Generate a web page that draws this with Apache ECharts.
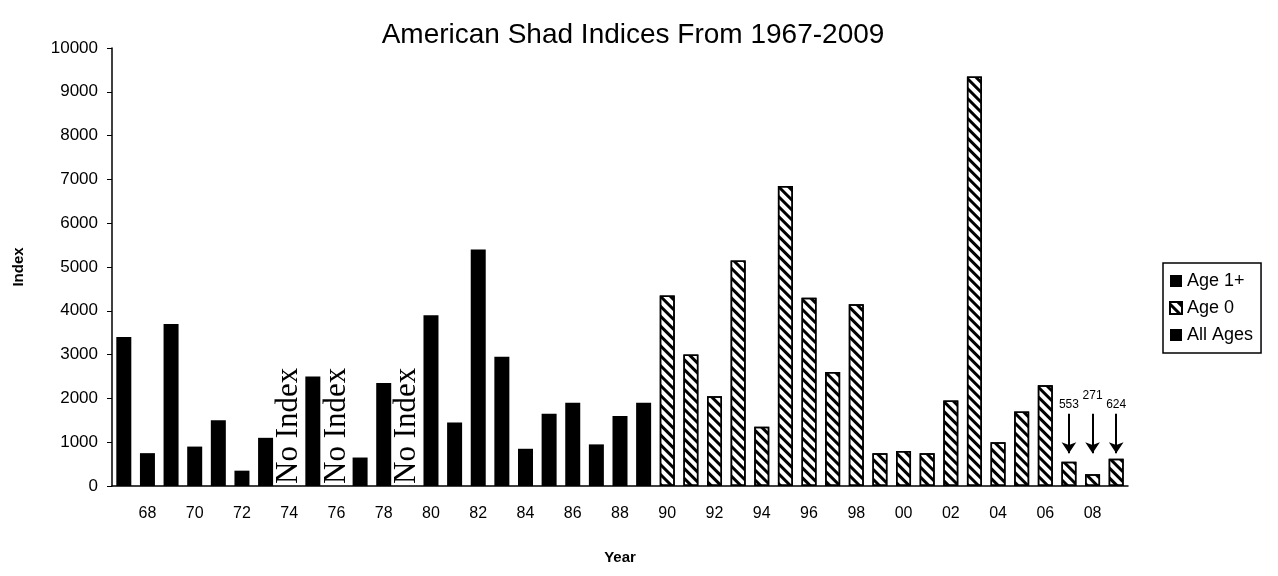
<!DOCTYPE html>
<html>
<head>
<meta charset="utf-8">
<script src="https://cdn.jsdelivr.net/npm/echarts@6/dist/echarts.min.js"></script>
<style>
  html, body { margin: 0; padding: 0; background: #fff; }
  #shadChart { width: 1278px; height: 576px; }
</style>
</head>
<body>
<div id="shadChart"></div>
<script>
// years on the x axis
const years = [
  "1967", "1968", "1969", "1970", "1971", "1972", "1973", "1974", "1975", "1976",
  "1977", "1978", "1979", "1980", "1981", "1982", "1983", "1984", "1985", "1986",
  "1987", "1988", "1989", "1990", "1991", "1992", "1993", "1994", "1995", "1996",
  "1997", "1998", "1999", "2000", "2001", "2002", "2003", "2004", "2005", "2006",
  "2007", "2008", "2009"
];
// Age 1+ index, 1967-1989 (null = no index that year)
const age1Plus = [
  3400, 750, 3700, 900, 1500, 350, 1100, null, 2500, null,
  650, 2350, null, 3900, 1450, 5400, 2950, 850, 1650, 1900,
  950, 1600, 1900
];
// Age 0 index, 1990-2009
const age0 = [
  4350, 3000, 2050, 5150, 1350, 6850, 4300, 2600, 4150, 750,
  800, 750, 1950, 9350, 1000, 1700, 2300, 553, 271, 624
];
const allAges = [];
const noIndexYears = ["1974", "1976", "1979"];
const arrowYears = ["2007", "2008", "2009"];
const yTicks = [0, 10000, 1000]; // min, max, step

const font = "Liberation Sans, Arial, sans-serif";

// pad the series to the full year range
const age1Data = years.map((y, i) => (i < age1Plus.length && age1Plus[i] != null ? age1Plus[i] : "-"));
const age0Data = years.map((y, i) => {
  let j = i - age1Plus.length;
  return j >= 0 ? age0[j] : "-";
});
const noIndexData = years.map(y => (noIndexYears.includes(y) ? 0 : "-"));

const arrowLines = arrowYears.map((y, k) => {
  let v = age0[years.indexOf(y) - age1Plus.length];
  return [
    {
      coord: [y, 1650],
      label: {
        show: true,
        position: "start",
        formatter: String(v),
        distance: k === 1 ? 12 : 3,
        fontSize: 12,
        color: "#000",
        fontFamily: font
      }
    },
    { coord: [y, 750] }
  ];
});

let chart = echarts.init(document.getElementById("shadChart"));
chart.setOption({
  backgroundColor: "#fff",
  animation: false,
  title: {
    text: "American Shad Indices From 1967-2009",
    left: 628,
    textAlign: "center",
    top: 16,
    textStyle: { fontSize: 28, fontWeight: "normal", color: "#000", fontFamily: font }
  },
  legend: {
    data: ["Age 1+", "Age 0", "All Ages"],
    orient: "vertical",
    left: 1163,
    top: 263,
    padding: [9, 8, 9, 6],
    itemGap: 9,
    itemWidth: 12,
    itemHeight: 12,
    icon: "rect",
    borderColor: "#000",
    borderWidth: 1.5,
    textStyle: { fontSize: 18, color: "#000", fontFamily: font }
  },
  grid: { left: 112, right: 150, top: 48, bottom: 90 },
  xAxis: {
    type: "category",
    data: years,
    name: "Year",
    nameLocation: "middle",
    nameGap: 64,
    nameTextStyle: { fontSize: 15, fontWeight: "bold", color: "#000", fontFamily: font },
    boundaryGap: true,
    axisLine: { lineStyle: { color: "#000", width: 1.5 } },
    axisTick: { interval: 0, length: 5, lineStyle: { color: "#000" } },
    axisLabel: {
      interval: (i) => i % 2 === 1,
      formatter: (v) => v.slice(2),
      fontSize: 16,
      margin: 20,
      color: "#000",
      fontFamily: font
    }
  },
  yAxis: {
    type: "value",
    min: yTicks[0],
    max: yTicks[1],
    interval: yTicks[2],
    name: "Index",
    nameLocation: "middle",
    nameGap: 86,
    nameTextStyle: { fontSize: 15, fontWeight: "bold", color: "#000", fontFamily: font },
    axisLine: { show: true, lineStyle: { color: "#000", width: 1.5 } },
    axisTick: { show: true, length: 5, lineStyle: { color: "#000" } },
    splitLine: { show: false },
    axisLabel: {
      formatter: (v) => String(v),
      fontSize: 17,
      margin: 14,
      color: "#000",
      fontFamily: font
    }
  },
  series: [
    {
      name: "Age 1+",
      type: "bar",
      stack: "idx",
      barWidth: 15,
      data: age1Data,
      itemStyle: { color: "#000" }
    },
    {
      name: "Age 0",
      type: "bar",
      stack: "idx",
      barWidth: 15,
      data: age0Data,
      itemStyle: {
        color: "#fff",
        borderColor: "#000",
        borderWidth: 1.5,
        decal: {
          symbol: "rect",
          color: "#000",
          dashArrayX: [1, 0],
          dashArrayY: [3, 3.5],
          rotation: Math.PI / 4
        }
      },
      markLine: {
        silent: true,
        symbol: ["none", "arrow"],
        symbolSize: 11,
        lineStyle: { color: "#000", width: 2, type: "solid" },
        data: arrowLines
      }
    },
    {
      name: "All Ages",
      type: "bar",
      stack: "idx",
      barWidth: 15,
      data: allAges,
      itemStyle: { color: "#000" }
    },
    {
      name: "No Index",
      type: "bar",
      stack: "idx",
      barWidth: 15,
      data: noIndexData,
      itemStyle: { color: "#000" },
      label: {
        show: true,
        position: "top",
        distance: 2,
        rotate: 90,
        align: "left",
        verticalAlign: "middle",
        formatter: "No Index",
        fontSize: 31,
        color: "#000",
        fontFamily: "Liberation Serif, Times New Roman, serif"
      }
    }
  ]
});
window.addEventListener("resize", () => {
  chart.resize();
});
</script>
</body>
</html>
